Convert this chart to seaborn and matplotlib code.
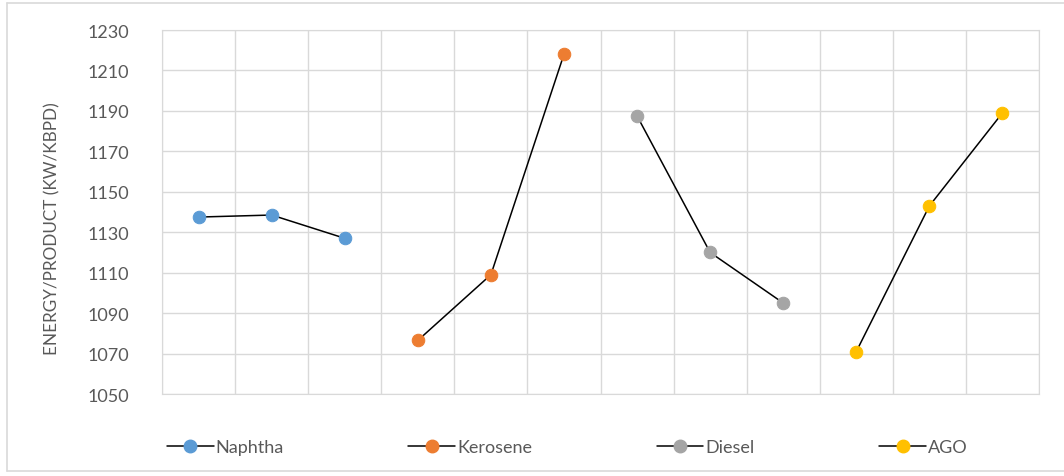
import numpy as np
import matplotlib
matplotlib.use("Agg")
import matplotlib.pyplot as plt
import seaborn as sns
from matplotlib.lines import Line2D

# Datos
series = ["Naphtha", "Kerosene", "Diesel", "AGO"]
naphtha = [1137.5, 1138.5, 1127]
kerosene = [1076.5, 1109, 1218]
diesel = [1187.5, 1120, 1095]
ago = [1071, 1143, 1189]
valores = [naphtha, kerosene, diesel, ago]
colores = ["#5B9BD5", "#ED7D31", "#A5A5A5", "#FFC000"]
yticks = list(range(1050, 1231, 20))

sns.set_style("white")
plt.rcParams["font.family"] = ["Lato", "DejaVu Sans"]

fig = plt.figure(figsize=(10.64, 4.77), dpi=100)
ax = fig.add_axes([0.1523, 0.1719, 0.8242, 0.7631])

pos = 0
for nombre, vals, c in zip(series, valores, colores):
    x = np.arange(pos, pos + len(vals))
    sns.lineplot(x=x, y=vals, ax=ax, color="black", linewidth=1.1,
                 marker="o", markersize=9, markerfacecolor=c,
                 markeredgecolor=c, label=nombre, legend=False)
    pos += len(vals)

ax.set_xlim(-0.5, pos - 0.5)
ax.set_ylim(1050, 1230)
ax.set_yticks(yticks)
ax.set_xticks(np.arange(-0.5, pos, 1.0))
ax.set_xticklabels([])
ax.grid(True, color="#D9D9D9", linewidth=1)
ax.tick_params(axis="both", length=0)
ax.tick_params(axis="y", labelsize=13, labelcolor="#595959", pad=24)
for s in ax.spines.values():
    s.set_visible(True)
    s.set_color("#D9D9D9")
ax.set_xlabel("")
ax.set_ylabel("ENERGY/PRODUCT (KW/KBPD)", fontsize=12.3, color="#595959")
ax.yaxis.set_label_coords(-0.1155, 0.456)

handles = [Line2D([], [], color="black", linewidth=1.1, marker="o", markersize=9,
                  markerfacecolor=c, markeredgecolor=c) for c in colores]
fig.legend(handles, series, loc="center", bbox_to_anchor=(0.533, 0.06), ncol=4,
           frameon=False, fontsize=13, handlelength=2.6, handletextpad=0.1,
           columnspacing=6.9, labelcolor="#595959")

# Borde exterior del gráfico
W, H = 1064, 477
fig.add_artist(Line2D([7 / W, 7 / W], [1 - 4 / H, 1 - 472 / H], color="#D9D9D9", linewidth=1.2))
fig.add_artist(Line2D([7 / W, 1.0], [1 - 4 / H, 1 - 4 / H], color="#D9D9D9", linewidth=1.2))
fig.add_artist(Line2D([7 / W, 1.0], [1 - 472 / H, 1 - 472 / H], color="#D9D9D9", linewidth=1.2))

fig.savefig("out.png", dpi=100)
